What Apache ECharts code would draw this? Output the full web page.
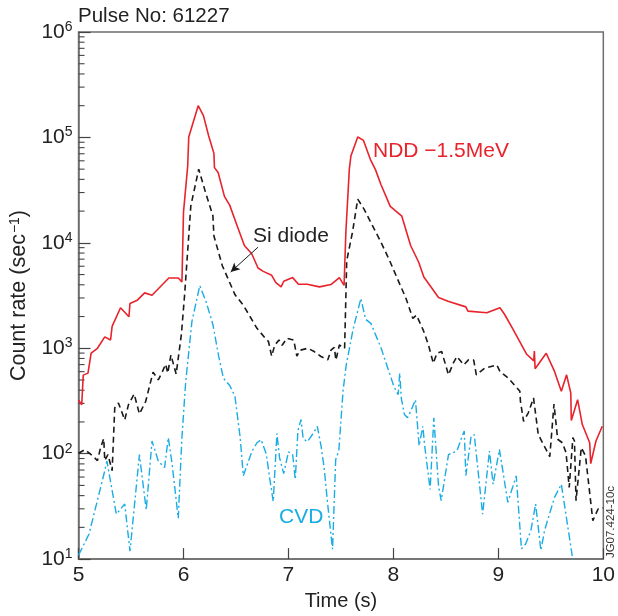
<!DOCTYPE html>
<html>
<head>
<meta charset="utf-8">
<script src="https://cdn.jsdelivr.net/npm/echarts@6/dist/echarts.min.js"></script>
<style>
  html, body { margin: 0; padding: 0; background: #fff; }
  #chart { width: 618px; height: 616px; }
</style>
</head>
<body>
<div id="chart"></div>
<script>
// ---- Data (time in s, count rate in 1/s) ----
const xTicks = [5, 6, 7, 8, 9, 10];
const yDecades = [1e1, 1e2, 1e3, 1e4, 1e5, 1e6];

const ndd = [
  [5.00, 323], [5.03, 290], [5.045, 556], [5.09, 581], [5.12, 897], [5.18, 1000],
  [5.25, 1282], [5.305, 1197], [5.32, 1614], [5.40, 2421], [5.48, 1991], [5.49, 2661],
  [5.56, 2860], [5.63, 3353], [5.70, 3185], [5.86, 4644], [5.95, 4644], [5.985, 4260],
  [6.00, 19500], [6.04, 53600], [6.05, 101000], [6.14, 200000], [6.19, 161000],
  [6.24, 103000], [6.29, 70600], [6.295, 51700], [6.33, 46400], [6.39, 27600],
  [6.44, 22800], [6.51, 14600], [6.58, 9440], [6.65, 7880], [6.71, 5770], [6.76, 5360],
  [6.84, 4920], [6.88, 4200], [6.93, 3820], [6.955, 4320], [7.04, 4680], [7.095, 4050],
  [7.18, 4050], [7.295, 3820], [7.405, 4020], [7.485, 4680], [7.53, 3950],
  [7.547, 12600], [7.58, 49900], [7.595, 66700], [7.66, 101000], [7.715, 93700],
  [7.78, 62000], [7.83, 49200], [7.88, 36000], [7.97, 22200], [8.08, 17900],
  [8.164, 9440], [8.24, 6580], [8.29, 4740], [8.43, 3030], [8.52, 2790], [8.69, 2470],
  [8.71, 2250], [8.89, 2170], [9.015, 2420], [9.06, 2090], [9.14, 1510], [9.27, 877],
  [9.337, 760], [9.343, 940], [9.35, 640], [9.456, 897], [9.535, 603], [9.60, 391],
  [9.65, 560], [9.69, 376], [9.695, 206], [9.755, 325], [9.80, 189], [9.87, 127],
  [9.88, 80.5], [9.93, 132], [9.99, 182]
];

const siDiode = [
  [5.00, 101], [5.06, 109], [5.12, 98], [5.18, 86], [5.21, 114], [5.24, 139],
  [5.25, 86], [5.28, 98], [5.32, 69], [5.345, 272], [5.38, 303], [5.44, 209],
  [5.475, 290], [5.53, 368], [5.58, 238], [5.64, 314], [5.71, 594], [5.76, 502],
  [5.80, 603], [5.83, 706], [5.85, 581], [5.88, 865], [5.93, 569], [5.98, 1356],
  [6.01, 3162], [6.07, 22500], [6.145, 49900], [6.21, 30100], [6.28, 18100],
  [6.29, 11600], [6.37, 6070], [6.49, 3230], [6.57, 2560], [6.70, 1545], [6.78, 1242],
  [6.81, 1156], [6.84, 841], [6.87, 1074], [6.91, 1197], [6.94, 1067], [6.985, 1242],
  [7.05, 1197], [7.08, 841], [7.11, 958], [7.185, 1000], [7.245, 930], [7.31, 835],
  [7.375, 776], [7.405, 958], [7.437, 1021], [7.452, 771], [7.485, 1074], [7.535, 1000],
  [7.545, 2547], [7.555, 6760], [7.61, 12600], [7.66, 26000], [7.72, 20900],
  [7.80, 14600], [7.88, 10200], [7.96, 6920], [8.05, 4290], [8.12, 2970], [8.185, 1920],
  [8.22, 2060], [8.285, 1480], [8.335, 1067], [8.38, 721], [8.415, 897], [8.46, 930],
  [8.525, 560], [8.57, 721], [8.605, 835], [8.67, 695], [8.715, 776], [8.765, 771],
  [8.79, 560], [8.87, 647], [8.985, 695], [9.015, 603], [9.095, 521], [9.205, 391],
  [9.21, 316], [9.24, 203], [9.285, 244], [9.335, 338], [9.38, 152], [9.49, 93.8],
  [9.53, 296], [9.565, 137], [9.61, 127], [9.645, 102], [9.675, 47.8], [9.71, 142],
  [9.725, 132], [9.74, 35.8], [9.79, 114], [9.83, 95.7], [9.90, 23.2], [9.95, 29.9],
  [10.0, 30.6]
];

const cvd = [
  [5.00, 10.9], [5.10, 17.3], [5.25, 69], [5.27, 85], [5.31, 51], [5.36, 26.7],
  [5.44, 33.3], [5.49, 11.9], [5.58, 98], [5.615, 51], [5.645, 29.3], [5.70, 132],
  [5.76, 85], [5.82, 73.8], [5.855, 142], [5.89, 82], [5.95, 24.4], [5.985, 142],
  [6.02, 468], [6.08, 1786], [6.155, 3930], [6.215, 2770], [6.28, 1683], [6.335, 841],
  [6.38, 521], [6.44, 443], [6.49, 352], [6.54, 142], [6.57, 61.6], [6.65, 104],
  [6.70, 127], [6.74, 136], [6.79, 98], [6.82, 59.4], [6.855, 35.2], [6.89, 155],
  [6.915, 91.6], [6.955, 64.7], [7.00, 104], [7.04, 98], [7.065, 56.9], [7.09, 165],
  [7.12, 211], [7.14, 139], [7.18, 130], [7.24, 158], [7.275, 182], [7.31, 119],
  [7.34, 73.8], [7.37, 36], [7.42, 12.4], [7.45, 87.7], [7.48, 107], [7.52, 391],
  [7.55, 692], [7.615, 1496], [7.69, 2970], [7.735, 1881], [7.785, 1722], [7.88, 1021],
  [8.005, 434], [8.045, 362], [8.06, 581], [8.075, 337], [8.105, 235], [8.135, 219],
  [8.165, 253], [8.21, 325], [8.245, 119], [8.28, 182], [8.30, 114], [8.35, 45.7],
  [8.385, 219], [8.43, 49.5], [8.455, 35.8], [8.525, 98], [8.605, 106], [8.65, 142],
  [8.675, 164], [8.69, 62], [8.74, 145], [8.77, 152], [8.85, 26.7], [8.915, 106],
  [8.95, 51.3], [9.01, 110], [9.09, 34.5], [9.17, 61.6], [9.22, 12.5], [9.26, 13.9],
  [9.31, 18.7], [9.355, 33.3], [9.405, 12.1], [9.44, 18.7], [9.535, 38.5], [9.60, 51.3],
  [9.72, 8.4]
];

// Si diode annotation arrow (data coordinates)
const arrowFrom = [6.71, 9100];
const arrowTo = [6.45, 5300];

// minor tick positions of the log axis (2..9 in each decade)
const minorTickValues = [];
for (let d = 1; d < 6; d++) {
  for (let m = 2; m <= 9; m++) minorTickValues.push([5, m * Math.pow(10, d)]);
}

const FONT = "'Liberation Sans', Arial, Helvetica, sans-serif";
const RED = '#e8232b';
const BLACK = '#1a1a1a';
const BLUE = '#1aace4';
const AXIS = '#6e6e6e';

const chart = echarts.init(document.getElementById('chart'), null, { renderer: 'canvas' });

chart.setOption({
  animation: false,
  backgroundColor: '#fff',
  textStyle: { fontFamily: FONT },
  grid: {
    left: 76, top: 32, width: 528, height: 530,
    show: true, borderColor: AXIS, borderWidth: 1.5, backgroundColor: 'transparent'
  },
  xAxis: {
    type: 'value', min: 5, max: 10, interval: 1,
    name: 'Time (s)', nameLocation: 'middle', nameGap: 24,
    nameTextStyle: { fontFamily: FONT, fontSize: 20, color: '#222' },
    axisLine: { show: true, lineStyle: { color: AXIS, width: 1.5 } },
    axisTick: { show: true, inside: true, length: 11, lineStyle: { color: '#444', width: 1.2 } },
    axisLabel: { fontFamily: FONT, fontSize: 21, color: '#222', margin: 6,
      formatter: v => (xTicks.indexOf(v) >= 0 ? String(v) : '') },
    splitLine: { show: false }
  },
  yAxis: {
    type: 'log', logBase: 10, min: 10, max: 1e6,
    name: '{a|Count rate (sec}{s|−1}{a|)}', nameLocation: 'middle', nameGap: 43, nameRotate: 90,
    nameTextStyle: {
      fontFamily: FONT, color: '#222',
      rich: {
        a: { fontFamily: FONT, fontSize: 21.5, color: '#222' },
        s: { fontFamily: FONT, fontSize: 14, color: '#222', padding: [0, 0, 9, 1] }
      }
    },
    axisLine: { show: true, lineStyle: { color: AXIS, width: 1.5 } },
    axisTick: { show: true, inside: true, length: 12, lineStyle: { color: '#444', width: 1.2 } },
    axisLabel: {
      margin: 6,
      formatter: v => {
        const e = Math.round(Math.log10(v));
        return yDecades.indexOf(Math.pow(10, e)) >= 0 ? '{b|10}{s|' + e + '}' : '';
      },
      rich: {
        b: { fontFamily: FONT, fontSize: 21, color: '#222' },
        s: { fontFamily: FONT, fontSize: 14, color: '#222', padding: [0, 0, 10, 0] }
      }
    },
    splitLine: { show: false }
  },
  series: [
    {
      name: 'minorTicks', type: 'custom', silent: true, clip: false, z: 1,
      data: minorTickValues,
      renderItem: (params, api) => {
        const p = api.coord([api.value(0), api.value(1)]);
        return { type: 'line', shape: { x1: p[0], y1: p[1], x2: p[0] + 6, y2: p[1] },
          style: { stroke: '#444', lineWidth: 1.1 } };
      }
    },
    {
      name: 'CVD', type: 'line', data: cvd, showSymbol: false, symbol: 'none', z: 2,
      lineStyle: { color: BLUE, width: 1.4, type: [8, 3, 2, 3] }
    },
    {
      name: 'Si diode', type: 'line', data: siDiode, showSymbol: false, symbol: 'none', z: 3,
      lineStyle: { color: BLACK, width: 1.6, type: [6, 4] },
      markLine: {
        silent: true, symbol: ['none', 'arrow'], symbolSize: [7, 9], label: { show: false },
        lineStyle: { color: BLACK, width: 1, type: 'solid' },
        data: [[{ coord: arrowFrom }, { coord: arrowTo }]]
      }
    },
    {
      name: 'NDD', type: 'line', data: ndd, showSymbol: false, symbol: 'none', z: 4,
      lineStyle: { color: RED, width: 1.6 }
    }
  ],
  graphic: [
    { type: 'text', x: 78, y: 16, style: { text: 'Pulse No: 61227', font: '20.5px ' + FONT, fill: '#222', textVerticalAlign: 'middle' } },
    { type: 'text', x: 373, y: 151, style: { text: 'NDD −1.5MeV', font: '21px ' + FONT, fill: RED, textVerticalAlign: 'middle' } },
    { type: 'text', x: 253, y: 236, style: { text: 'Si diode', font: '21px ' + FONT, fill: '#222', textVerticalAlign: 'middle' } },
    { type: 'text', x: 279, y: 517, style: { text: 'CVD', font: '21px ' + FONT, fill: BLUE, textVerticalAlign: 'middle' } },
    { type: 'text', x: 611, y: 522, rotation: Math.PI / 2,
      style: { text: 'JG07.424-10c', font: '11.5px ' + FONT, fill: '#333', textAlign: 'center', textVerticalAlign: 'middle' } }
  ]
});
</script>
</body>
</html>
